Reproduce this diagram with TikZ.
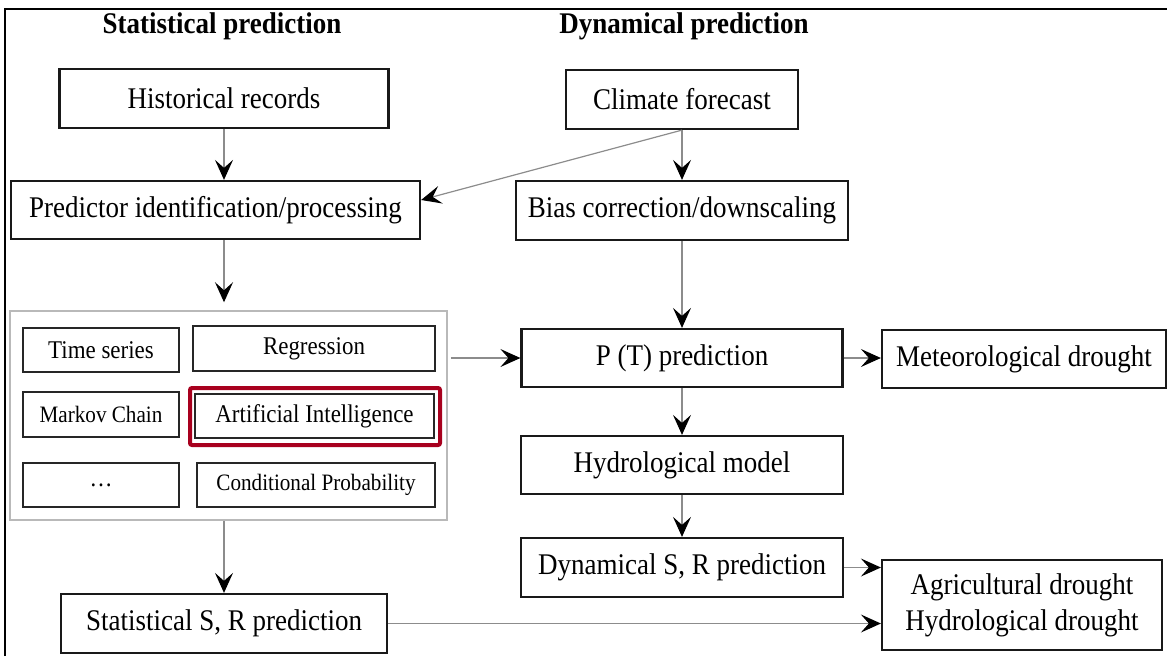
\documentclass[tikz,border=0pt]{standalone}
\usepackage{fontspec}
\setmainfont{Liberation Serif}[FakeStretch=0.9]
\usepackage{xcolor}
\usetikzlibrary{positioning,arrows.meta,calc}
\definecolor{hired}{HTML}{A8001E}
\definecolor{shaft}{HTML}{8C8C8C}

\begin{document}
\begin{tikzpicture}[
  x=1pt, y=-1pt,
  font=\fontsize{30}{36}\selectfont,
  box/.style={draw=black!90, line width=2.2pt, inner sep=0pt, align=center},
  sub/.style={draw=black!85, line width=2pt, inner sep=0pt, font=\fontsize{25.5}{30}\selectfont},
  subs/.style={sub, font=\fontsize{23.5}{28}\selectfont},
  grp/.style={draw=gray!55, line width=1.5pt, inner sep=0pt},
  hl/.style={draw=hired, line width=4pt, rounded corners=2pt, inner sep=0pt},
  head/.style={font=\fontsize{30}{36}\selectfont\bfseries},
  arr/.style={draw=shaft, line width=1.2pt, -{Stealth[black, length=20pt, width=18pt, inset=8pt]}},
]
\useasboundingbox (0,0) rectangle (1167,656);
\def\lx{224}\def\rx{682}
% frame
\draw[line width=1.5pt] (5,656) -- (5,9) -- (1167,9);
% column heads
\node[head] (tstat) at (222,26) {Statistical prediction};
\node[head] (tdyn) at (684,26) {Dynamical prediction};
% statistical side
\node[box, minimum width=329pt, minimum height=59pt] (hist) at (\lx,98.5) {Historical records};
\node[box, minimum width=409pt, minimum height=58pt] (pred) at (215.5,210) {Predictor identification/processing};
\node[grp, minimum width=437pt, minimum height=209pt] (grp) at (228.5,415.5) {};
\node[sub, minimum width=156pt, minimum height=44pt] (ts) at (101,350) {Time series};
\node[sub, minimum width=242pt, minimum height=45pt] (reg) at (314,348.5) {Regression};
\node[subs, minimum width=156pt, minimum height=45pt] (mk) at (101,414.5) {Markov Chain};
\node[hl, minimum width=250pt, minimum height=57pt] (aibox) at (315,416.5) {};
\node[sub, minimum width=239pt, minimum height=44pt] (ai) at (314.5,416) {Artificial Intelligence};
\node[sub, minimum width=156pt, minimum height=44pt] (dots) at (101,485) {\dots};
\node[subs, minimum width=238pt, minimum height=44pt] (cp) at (316,485) {Conditional Probability};
\node[box, minimum width=326pt, minimum height=59pt] (stat) at (\lx,623.5) {Statistical S, R prediction};
% dynamical side
\node[box, minimum width=232pt, minimum height=59pt] (clim) at (\rx,99.5) {Climate forecast};
\node[box, minimum width=332pt, minimum height=59pt] (bias) at (\rx,210.5) {Bias correction/downscaling};
\node[box, minimum width=321pt, minimum height=58pt] (pt) at (\rx,358) {P (T) prediction};
\node[box, minimum width=284pt, minimum height=58pt] (meteo) at (1024,359) {Meteorological drought};
\node[box, minimum width=322pt, minimum height=58pt] (hydro) at (\rx,465) {Hydrological model};
\node[box, minimum width=322pt, minimum height=59pt] (dyn) at (\rx,567.5) {Dynamical S, R prediction};
\node[box, minimum width=280pt, minimum height=90pt] (agri) at (1022,605) {Agricultural drought\\Hydrological drought};
% connectors
\draw[arr] (hist.south) -- (hist.south |- pred.north);
\draw[arr, shorten >=8pt] (hist.south |- pred.south) -- (hist.south |- grp.north);
\draw[arr] (hist.south |- grp.south) -- (stat.north);
\draw[arr] (clim.south) -- (bias.north);
\draw[arr] (clim.south) -- ([yshift=10pt]pred.east);
\draw[arr] (bias.south) -- (pt.north);
\draw[arr, shorten <=3pt] (grp.east |- pt.west) -- (pt.west);
\draw[arr] (pt.east) -- (meteo.west |- pt.east);
\draw[arr] (pt.south) -- (hydro.north);
\draw[arr] (hydro.south) -- (dyn.north);
\draw[arr] (dyn.east) -- (agri.west |- dyn.east);
\draw[arr] (stat.east) -- (agri.west |- stat.east);
\end{tikzpicture}
\end{document}
